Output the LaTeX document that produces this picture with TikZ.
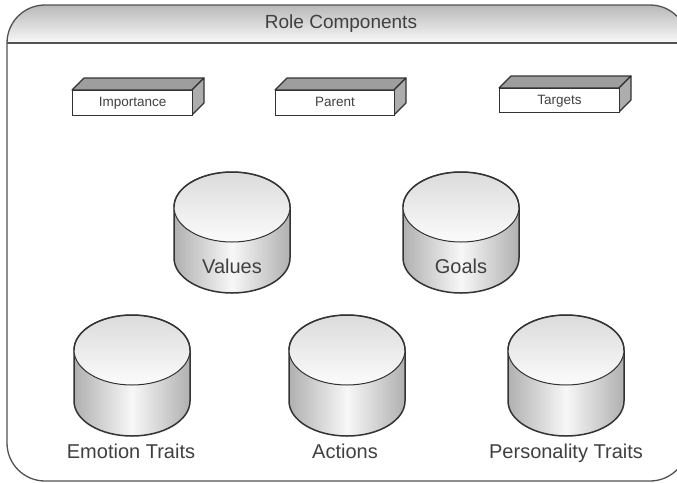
\documentclass[tikz,border=0pt]{standalone}
\usepackage{fontspec}
\setmainfont{Liberation Sans}
\definecolor{ink}{gray}{0.2}
\definecolor{txt}{gray}{0.25}
\definecolor{side}{gray}{0.62}
\newcommand{\brick}[6]{% name, x, y(front top), w, h, text
  \fill[side,draw=ink,line width=1.1pt,line join=round] (#2,#3) -- ++(12,-12) -- ++(#4,0) -- ++(-12,12) -- cycle;
  \fill[side!85!white,draw=ink,line width=1.1pt,line join=round] (#2+#4,#3) -- ++(12,-12) -- ++(0,#5) -- ++(-12,12) -- cycle;
  \node[brickface,minimum width=#4 pt,minimum height=#5 pt,anchor=north west] (#1) at (#2,#3) {#6};
}
\newcommand{\drum}[6]{% name, cx, top-centre y, text, text yshift, text xshift
  \shade[left color=gray!62,right color=gray!62,middle color=gray!6]
    (#2-58,#3) -- (#2-58,#3+51) arc[start angle=180,end angle=0,x radius=58,y radius=35] -- (#2+58,#3) -- cycle;
  \draw[ink,line width=1.5pt] (#2-58,#3) -- (#2-58,#3+51) arc[start angle=180,end angle=0,x radius=58,y radius=35] -- (#2+58,#3);
  \shade[top color=gray!28,bottom color=gray!3,draw=ink,line width=1pt] (#2,#3) ellipse[x radius=58,y radius=35];
  \draw[ink,line width=1.5pt] (#2-58,#3) arc[start angle=180,end angle=360,x radius=58,y radius=35];
  \coordinate (#1) at (#2,#3);
  \node[drumlabel] (#1label) at (#2+#6,#3+#5) {#4};
}
\tikzset{
  brickface/.style={draw=ink,line width=1.1pt,fill=white,inner sep=0pt,text=txt,text height=10pt,text depth=3pt,font=\fontsize{13.5}{15}\selectfont},
  drumlabel/.style={text=txt,inner sep=0pt,text height=15pt,text depth=4pt,font=\fontsize{20}{23}\selectfont}
}
\begin{document}
\begin{tikzpicture}[x=1pt,y=-1pt]
\useasboundingbox (0,0) rectangle (677,482);
\fill[white] (0,0) rectangle (677,482);
\begin{scope}
\clip (0,0) rectangle (677,482);
\shade[top color=gray!55,bottom color=gray!5]
  (7,43) arc[start angle=180,end angle=270,radius=38] -- (650,5) arc[start angle=270,end angle=360,radius=38] -- cycle;
\draw[ink!85,line width=1.3pt] (7,43) arc[start angle=180,end angle=270,radius=38] -- (650,5) arc[start angle=270,end angle=360,radius=38] -- (688,443) arc[start angle=0,end angle=90,radius=38] -- (45,481) arc[start angle=90,end angle=180,radius=38] -- cycle;
\draw[ink!85,line width=1.3pt] (7,43) -- (688,43);
\end{scope}
\node[text=txt,inner sep=0pt,font=\fontsize{19}{22}\selectfont] (title) at (341,24) {Role Components};
\brick{imp}{72}{90}{120}{25}{Importance}
\brick{par}{275}{90}{119}{25}{Parent}
\brick{tar}{499}{88}{120}{24}{Targets}
\drum{values}{232}{207}{Values}{61}{0}
\drum{goals}{461}{207}{Goals}{61}{0}
\drum{emotion}{132}{350}{Emotion Traits}{103}{-1}
\drum{actions}{347}{350}{Actions}{103}{-2}
\drum{personality}{566}{350}{Personality Traits}{103}{0}
\end{tikzpicture}
\end{document}
